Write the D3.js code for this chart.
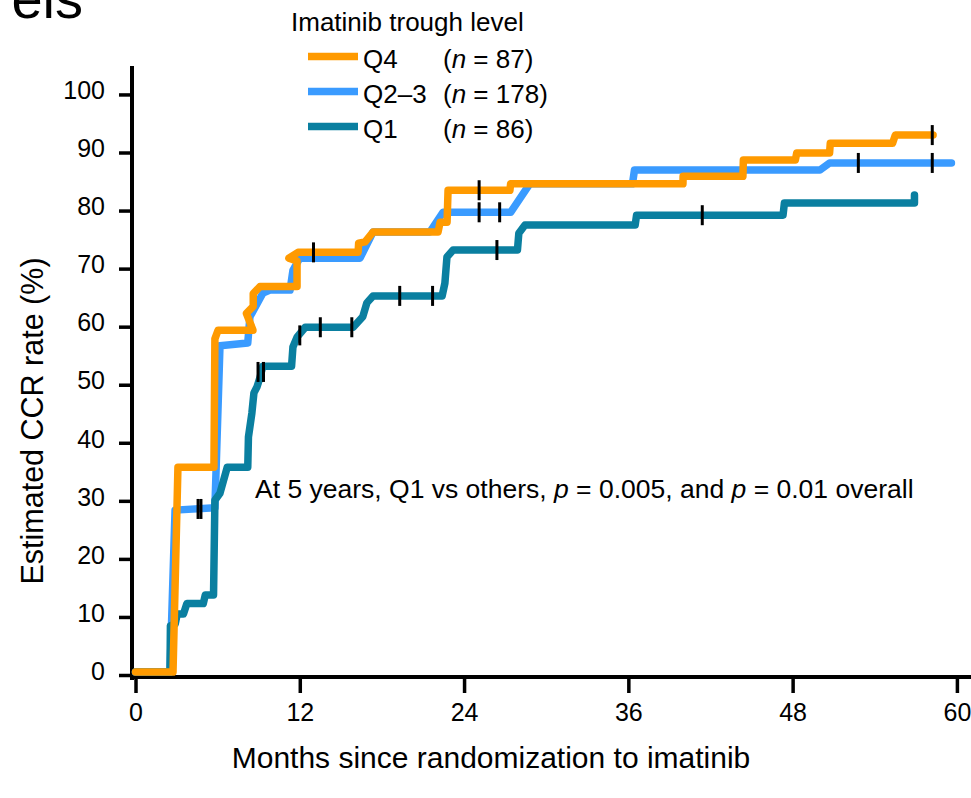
<!DOCTYPE html>
<html>
<head>
<meta charset="utf-8">
<script src="https://cdn.jsdelivr.net/npm/d3@7"></script>
<style>
  body { margin: 0; background: #fff; }
  svg { display: block; font-family: "Liberation Sans", Arial, sans-serif; }
</style>
</head>
<body>
<svg id="chart" width="971" height="798"></svg>
<script>
// ticks
const xTicks = [0, 12, 24, 36, 48, 60];
const yTicks = [0, 10, 20, 30, 40, 50, 60, 70, 80, 90, 100];

// legend
const groupNames = ["Q4", "Q2\u20133", "Q1"];
const groupN = [87, 178, 86];
const groupColors = ["#ff9a00", "#3a9bff", "#0a7fa0"];

// KM curves, [months, percent]
const q4Curve = [[0,0.5],[2.74,0.5],[3.1,35.8],[5.73,35.8],[5.8,57.9],[6.03,59.4],[8.58,59.4],
  [8.1,62.3],[8.6,63.5],[8.6,65.7],[9.09,66.9],[11.8,66.9],[11.8,71.3],[11.2,71.8],[11.87,72.8],
  [16.26,72.8],[16.3,74.4],[16.77,74.6],[17.35,76.3],[22.1,76.3],[22.25,78.0],[22.76,78.0],
  [22.83,83.5],[27.35,83.5],[27.4,84.6],[39.99,84.6],[40.0,85.9],[44.37,85.9],[44.4,88.7],
  [48.2,88.7],[48.3,89.9],[50.7,89.9],[50.75,91.6],[55.3,91.6],[55.5,93.0],[58.26,93.0]];

const q23Curve = [[0,0.5],[2.52,0.5],[2.89,28.4],[5.8,28.8],[6.17,56.7],[8.2,57.2],[8.36,61.7],
  [9.31,65.8],[9.82,66.3],[11.29,66.3],[11.5,69.7],[12.0,71.8],[16.4,71.8],[17.35,76.3],
  [21.5,76.3],[22.46,79.7],[27.4,79.7],[28.8,84.6],[36.3,84.6],[36.45,87.0],[50.0,87.0],
  [50.7,88.2],[59.6,88.2]];

const q1Curve = [[0,0.5],[2.52,0.5],[2.55,8.5],[2.9,8.8],[3.05,10.5],[3.5,10.5],[3.75,12.3],
  [4.95,12.3],[5.1,13.8],[5.7,13.8],[5.8,30.1],[6.17,31.3],[6.7,35.8],[8.2,35.8],[8.25,41],
  [8.5,45.1],[8.65,48.6],[8.87,49.6],[9.1,51.3],[9.3,53.2],[11.4,53.2],[11.5,56.5],[11.8,58.2],
  [12.4,59.9],[15.9,59.9],[16.6,61.7],[16.9,64.1],[17.35,65.3],[22.4,65.3],[22.6,67.5],
  [22.75,72.0],[23.2,73.2],[27.9,73.2],[28.0,76.1],[28.45,77.5],[36.5,77.5],[36.6,79.2],
  [47.3,79.2],[47.4,81.3],[56.9,81.3],[56.9,82.7]];

// censor marks
const q4Censor = [[13.0,72.8],[25.1,83.5],[58.2,93.0]];
const q23Censor = [[4.57,28.6],[4.78,28.6],[25.1,79.7],[26.6,79.7],[52.8,88.2],[58.2,88.2]];
const q1Censor = [[8.95,52.2],[9.35,52.2],[12.0,58.5],[13.5,59.9],[15.8,59.9],[19.3,65.3],
  [21.7,65.3],[26.4,73.2],[41.4,79.2]];

let svg = d3.select("#chart");

// scales
let x = d3.scaleLinear().domain([-0.256, 61.03]).range([132, 971]);
let y = d3.scaleLinear().domain([-0.344, 104.9]).range([677, 66]);

// title fragment, cut off at top-left like the source
svg.append("text")
  .attr("x", 83).attr("y", 18)
  .attr("text-anchor", "end")
  .style("font-size", "56px")
  .text("els");

// y axis
let yAxis = svg.append("g")
  .attr("transform", "translate(132,0)")
  .call(d3.axisLeft(y).tickValues(yTicks).tickSize(13).tickSizeOuter(0).tickPadding(14));
yAxis.select(".domain").attr("stroke-width", 4).attr("d", "M0,66V680");
yAxis.selectAll(".tick line").attr("stroke-width", 3.5);
yAxis.selectAll(".tick text")
  .attr("dy", "0.17em")
  .style("font-size", "25px")
  .style("font-family", "'Liberation Sans', Arial, sans-serif");

// x axis
let xAxis = svg.append("g")
  .attr("transform", "translate(0,677)")
  .call(d3.axisBottom(x).tickValues(xTicks).tickSize(16).tickSizeOuter(0).tickPadding(10));
xAxis.select(".domain").attr("stroke-width", 4).attr("d", "M130,0H971");
xAxis.selectAll(".tick line").attr("stroke-width", 3.5);
xAxis.selectAll(".tick text")
  .style("font-size", "25px")
  .style("font-family", "'Liberation Sans', Arial, sans-serif");

// axis titles
svg.append("text")
  .attr("x", 491).attr("y", 768)
  .attr("text-anchor", "middle")
  .style("font-size", "30px")
  .text("Months since randomization to imatinib");

svg.append("text")
  .attr("transform", "translate(43,421) rotate(-90)")
  .attr("text-anchor", "middle")
  .style("font-size", "30.5px")
  .text("Estimated CCR rate (%)");

// curves, bottom to top
let line = d3.line().x(d => x(d[0])).y(d => y(d[1]));
let curves = [q23Curve, q1Curve, q4Curve];
let curveColors = [groupColors[1], groupColors[2], groupColors[0]];

svg.selectAll("path.km")
  .data(curves)
  .enter().append("path")
  .attr("class", "km")
  .attr("d", line)
  .attr("fill", "none")
  .attr("stroke", (d, i) => curveColors[i])
  .attr("stroke-width", 7.5)
  .attr("stroke-linejoin", "round")
  .attr("stroke-linecap", "round");

// censor ticks
let censors = [].concat(q23Censor, q1Censor, q4Censor);
svg.selectAll("line.censor")
  .data(censors)
  .enter().append("line")
  .attr("class", "censor")
  .attr("x1", d => x(d[0])).attr("x2", d => x(d[0]))
  .attr("y1", d => y(d[1]) - 10).attr("y2", d => y(d[1]) + 10)
  .attr("stroke", "#000")
  .attr("stroke-width", 3);

// annotation
let note = svg.append("text")
  .attr("x", 255).attr("y", 498)
  .style("font-size", "26.5px");
note.append("tspan").text("At 5 years, Q1 vs others, ");
note.append("tspan").style("font-style", "italic").text("p");
note.append("tspan").text(" = 0.005, and ");
note.append("tspan").style("font-style", "italic").text("p");
note.append("tspan").text(" = 0.01 overall");

// legend
let legend = svg.append("g");
legend.append("text")
  .attr("x", 291).attr("y", 31)
  .style("font-size", "26px")
  .text("Imatinib trough level");

let rows = legend.selectAll("g.row")
  .data(groupNames)
  .enter().append("g")
  .attr("class", "row")
  .attr("transform", (d, i) => `translate(0,${68 + i * 35})`);

rows.append("line")
  .attr("x1", 308).attr("x2", 358)
  .attr("y1", -11.5).attr("y2", -11.5)
  .attr("stroke", (d, i) => groupColors[i])
  .attr("stroke-width", 7.5);

rows.append("text")
  .attr("x", 363)
  .style("font-size", "26px")
  .text(d => d);

let nText = rows.append("text")
  .attr("x", 443)
  .style("font-size", "26px");
nText.append("tspan").text("(");
nText.append("tspan").style("font-style", "italic").text("n");
nText.append("tspan").text((d, i) => " = " + groupN[i] + ")");
</script>
</body>
</html>
